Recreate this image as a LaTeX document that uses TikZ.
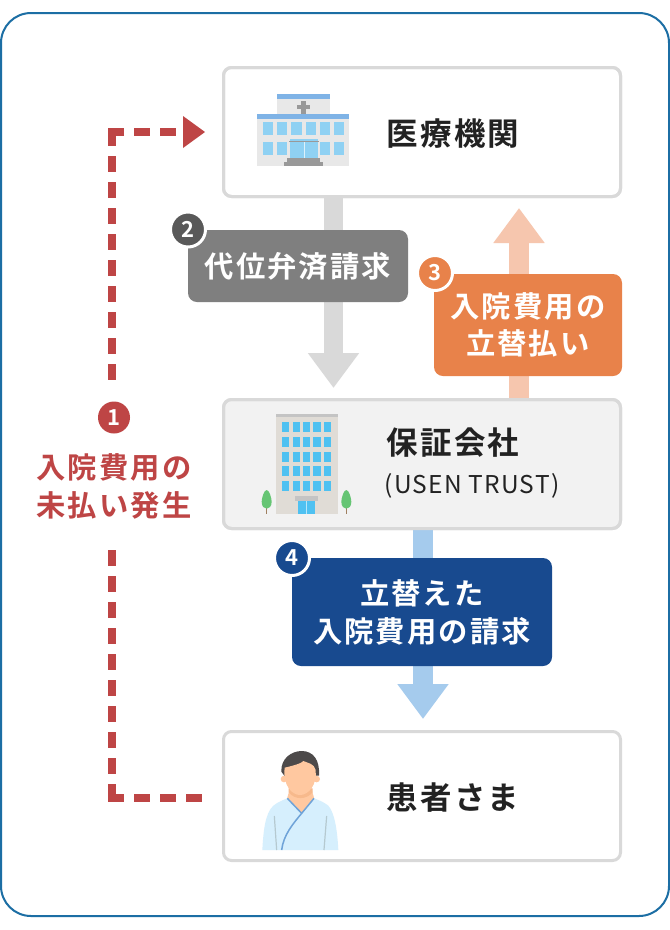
\documentclass[tikz,border=0pt]{standalone}
\usepackage{fontspec}
\usetikzlibrary{arrows.meta,calc}
\newfontfamily\jpb[LetterSpace=7]{Noto Sans CJK JP Bold}
\newfontfamily\jpr[LetterSpace=5]{Noto Sans CJK JP}
\definecolor{frameblue}{HTML}{1C6EA4}
\definecolor{boxgrey}{HTML}{D9D9D9}
\definecolor{redc}{HTML}{BE4545}
\definecolor{greyarrow}{HTML}{D9D9D9}
\definecolor{greybox}{HTML}{7F7F7F}
\definecolor{greybadge}{HTML}{595959}
\definecolor{orangebox}{HTML}{E8824A}
\definecolor{orangearrow}{HTML}{F6C6AE}
\definecolor{bluebox}{HTML}{184A8F}
\definecolor{bluearrow}{HTML}{A5CBED}
\definecolor{ink}{HTML}{222222}
\definecolor{winlight}{HTML}{8FD1F3}
\definecolor{striphosp}{HTML}{7FB3E6}
\definecolor{bodyc}{HTML}{E0DCD6}
\definecolor{capc}{HTML}{C4C4C4}
\definecolor{winb}{HTML}{4FC1F1}
\definecolor{trunk}{HTML}{A08060}
\definecolor{treec}{HTML}{66C574}
\definecolor{gownc}{HTML}{D6EFFD}
\definecolor{skinc}{HTML}{FFC8A0}
\definecolor{neckc}{HTML}{F7B98C}
\definecolor{hairc}{HTML}{4D4A4A}
\definecolor{sleevec}{HTML}{B5C9D0}
\definecolor{collarc}{HTML}{6FA3D8}
\tikzset{
  x=1pt,y=-1pt,
  org/.style={draw=boxgrey,line width=3pt,rounded corners=8pt,fill=white,minimum width=397pt,minimum height=129pt,inner sep=0pt},
  orgname/.style={inner sep=0pt,text=ink,font=\jpb\fontsize{31.5}{36}\selectfont},
  labelbox/.style={rounded corners=9pt,inner sep=0pt,text=white,align=center,font=\jpb\fontsize{29.3}{36}\selectfont},
  badge/.style={circle,draw=white,line width=3pt,minimum size=35pt,inner sep=0pt,text=white,font=\jpb\fontsize{22}{22}\selectfont},
  blockarrow/.style={line width=19.5pt,-{Triangle[length=35pt,width=49pt]}},
  reddash/.style={draw=redc,line width=8pt},
}
\begin{document}
\begin{tikzpicture}
\useasboundingbox (0,0) rectangle (670,930);
\fill[white] (0,0) rectangle (670,930);
\draw[frameblue,line width=2pt,rounded corners=30pt] (1,13) rectangle (669,916);

% organisation boxes
\node[org] (hosp) at (422,132) {};
\node[org,fill=boxgrey!35!white] (guar) at (422,464) {};
\node[org] (pat) at (422,796) {};

% block arrows
\coordinate (a2end) at (333.5,388);
\coordinate (a3end) at (519,208);
\coordinate (a4end) at (423,719);
\draw[blockarrow,greyarrow] (a2end |- hosp.south) -- (a2end);
\draw[blockarrow,orangearrow] (a3end |- guar.north) -- (a3end);
\draw[blockarrow,bluearrow] (a4end |- guar.south) -- (a4end);
% redraw borders over arrow roots
\node[org,fill=none] at (hosp) {};
\node[org,fill=none] at (guar) {};

% names
\node[orgname] (hospname) at (453,134) {医療機関};
\node[orgname] (guarname) at (453,443) {保証会社};
\node[inner sep=0pt,text=ink,font=\jpr\fontsize{24.5}{28}\selectfont] (guarsub) at (472,486) {(USEN TRUST)};
\node[orgname] (patname) at (453,798) {患者さま};

% label boxes
\node[labelbox,fill=greybox,minimum width=220pt,minimum height=72pt] (l2) at (298,266) {\raisebox{-1pt}{代位弁済請求}};
\node[labelbox,fill=orangebox,minimum width=188pt,minimum height=102pt] (l3) at (528,325) {\raisebox{-3pt}{入院費用の}\\\raisebox{-4pt}{立替払い}};
\node[labelbox,fill=bluebox,minimum width=260pt,minimum height=108pt] (l4) at (422,612) {\raisebox{-2pt}{立替えた}\\\raisebox{-4pt}{入院費用の請求}};
\node[badge,fill=greybadge] (b2) at (188,229.5) {2};
\node[badge,fill=orangebox] (b3) at (435,273) {3};
\node[badge,fill=bluebox] (b4) at (292,558) {4};

% unpaid label
\node[badge,fill=redc,draw=none,minimum size=32pt] (b1) at (114,417.5) {1};
\node[inner sep=0pt,text=redc,align=center,font=\jpb\fontsize{29.3}{38}\selectfont] (l1) at (114,486) {入院費用の\\未払い発生};

% red dashed connector
\coordinate (c1) at (112,132);
\coordinate (c2) at (112,798);
\coordinate (t1) at (205,132);
\draw[reddash,line join=miter] (124,132) -- (c1) -- (112,146);
\foreach \y in {156,182,208,234,260,286,312,338,364} \draw[reddash] (112,\y) -- (112,\y+16);
\foreach \y in {550,576,602,628,654,680,706,732,758} \draw[reddash] (112,\y) -- (112,\y+16);
\draw[reddash,line join=miter] (112,784) -- (c2) -- (124,798);
\foreach \x in {134,160} \draw[reddash] (\x,132) -- (\x+16,132);
\foreach \x in {134,160,186} \draw[reddash] (\x,798) -- (\x+16,798);
\fill[redc] (t1) -- (183,116) -- (183,148) -- cycle;

% hospital icon
\begin{scope}[shift={(230,70)},x=0.33333pt,y=-0.33333pt]
\fill[black!9] (141,72) rectangle (299,132);
\fill[striphosp] (141,72) rectangle (299,86);
\fill[black!9] (82,132) rectangle (358,288);
\fill[striphosp] (82,132) rectangle (358,148);
\fill[black!40] (214,93) rectangle (227,131);
\fill[black!40] (201,105) rectangle (239,117);
\foreach \x in {99,141,184,227,270,312} \fill[winlight] (\x,156) rectangle (\x+31,194);
\foreach \x in {99,141,270,312} \fill[winlight] (\x,216) rectangle (\x+31,255);
\fill[winlight] (180,207) rectangle (263,265);
\draw[white!70!winlight,line width=0.5pt] (221.5,212) -- (221.5,265);
\fill[black!40] (176,212) rectangle (266,217);
\fill[black!40] (171,265) rectangle (270,277);
\fill[black!40] (163,277) rectangle (278,288);
\end{scope}

% office icon
\begin{scope}[shift={(240,400)},x=0.33333pt,y=-0.33333pt]
\fill[bodyc] (107,42) rectangle (293,342);
\fill[capc] (107,42) rectangle (293,50);
\foreach \x in {126,158,189,220,252} \foreach \y in {67,111,155,199,243} \fill[winb] (\x,\y) rectangle (\x+22,\y+30);
\fill[capc] (165,288) rectangle (234,303);
\fill[winb] (174,303) rectangle (226,342);
\fill[white!60!winb] (199,303) rectangle (201,342);
\foreach \c in {80,319} {
  \fill[trunk] (\c-2,320) rectangle (\c+2,342);
  \fill[treec] (\c,270) .. controls (\c+8,270) and (\c+15,295) .. (\c+15,305) .. controls (\c+15,320) and (\c+7,326) .. (\c,326) .. controls (\c-7,326) and (\c-15,320) .. (\c-15,305) .. controls (\c-15,295) and (\c-8,270) .. (\c,270) -- cycle;
}
\end{scope}

% patient icon
\begin{scope}[shift={(240,735)},x=0.33333pt,y=-0.33333pt]
\fill[gownc] (67,345) .. controls (70,290) and (75,235) .. (100,212) .. controls (115,200) and (130,195) .. (146,188) -- (218,188) .. controls (235,195) and (250,200) .. (265,212) .. controls (285,235) and (292,290) .. (295,345) -- cycle;
\fill[skinc] (142,188) -- (150,160) -- (214,160) -- (222,188) -- (185,235) -- cycle;
\fill[neckc] (146,172) .. controls (165,195) and (198,195) .. (218,172) -- (218,160) -- (146,160) -- cycle;
\fill[skinc] (132,132) circle[radius=10];
\fill[skinc] (230,132) circle[radius=10];
\fill[hairc] (124,110) .. controls (122,70) and (155,48) .. (185,48) .. controls (220,48) and (240,75) .. (237,122) -- (228,122) -- (133,122) -- cycle;
\fill[skinc] (134,98) .. controls (160,92) and (185,85) .. (190,78) .. controls (205,85) and (222,85) .. (227,105) .. controls (232,150) and (205,180) .. (180,180) .. controls (155,180) and (128,150) .. (134,98) -- cycle;
\draw[sleevec,line width=1.2pt] (103,243) -- (110,345);
\draw[sleevec,line width=1.2pt] (260,243) -- (252,345);
\draw[collarc,line width=1.5pt] (142,190) -- (185,235);
\draw[collarc,line width=1.5pt] (222,190) -- (185,235) .. controls (160,265) and (130,300) .. (125,345);
\end{scope}
\end{tikzpicture}
\end{document}
